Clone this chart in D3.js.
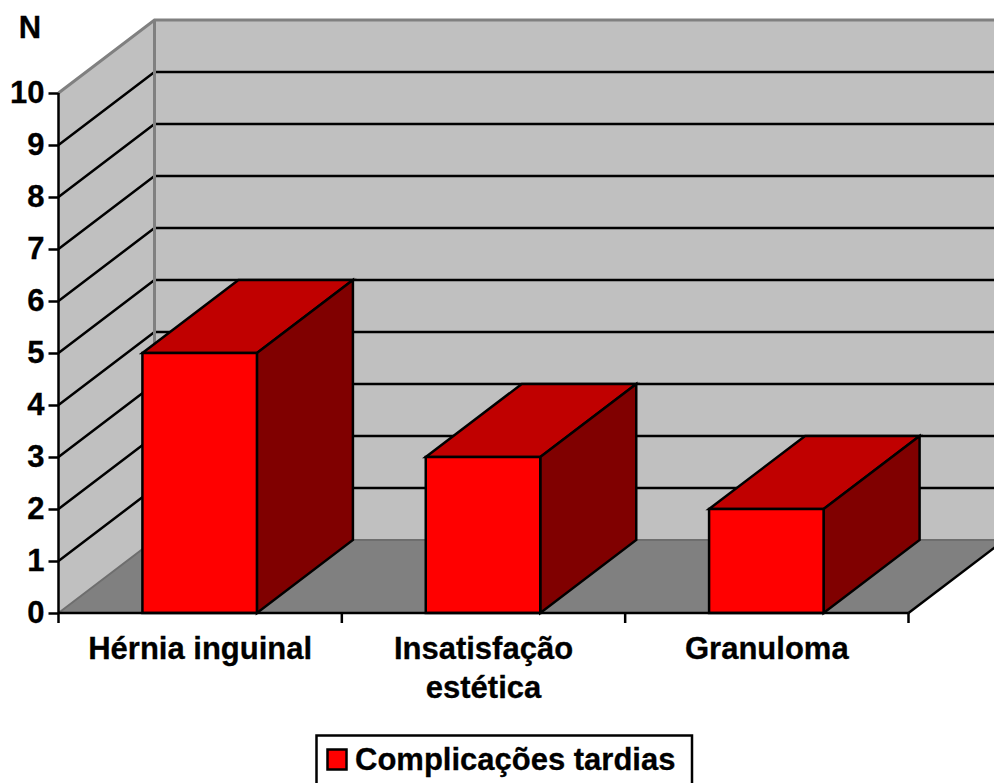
<!DOCTYPE html>
<html><head><meta charset="utf-8">
<script src="https://cdnjs.cloudflare.com/ajax/libs/d3/7.8.5/d3.min.js"></script>
<style>html,body{margin:0;padding:0;background:#fff;overflow:hidden}svg{display:block}text{font-family:"Liberation Sans",Arial,sans-serif;font-weight:700;fill:#000;stroke:#000;stroke-width:.3px}</style>
</head><body><div id="c"></div>
<script>
const categories = [["Hérnia inguinal"], ["Insatisfação", "estética"], ["Granuloma"]];
const values = [5, 3, 2];
const tickValues = [0,1,2,3,4,5,6,7,8,9,10];
const seriesName = "Complicações tardias";
const axisTitle = "N";

const W=994,H=783, depthX=96, depthY=73;
const svg=d3.select("#c").append("svg").attr("width",W).attr("height",H);
const x=d3.scaleBand().domain(d3.range(categories.length)).range([58.5,908.5]).paddingInner(0).paddingOuter(0);
const y=d3.scaleLinear().domain([0,10]).range([613,93]);
const line=d3.line();
const poly=(pts,fill,stroke,sw)=>svg.append("path").attr("d",line(pts)+"Z").attr("fill",fill).attr("stroke",stroke).attr("stroke-width",sw).attr("stroke-linejoin","miter");
const seg=(pts,stroke,sw)=>svg.append("path").attr("d",line(pts)).attr("fill","none").attr("stroke",stroke).attr("stroke-width",sw);
const x0=x.range()[0],x1=x.range()[1];
const yb=y(0),yt=y(10);
const lw=2.5;
// walls
poly([[x0,yb],[x0+depthX,yb-depthY],[x0+depthX,yt-depthY],[x0,yt]],"#c0c0c0","none",0);
poly([[x0+depthX,yb-depthY],[x1+depthX,yb-depthY],[x1+depthX,yt-depthY],[x0+depthX,yt-depthY]],"#c0c0c0","none",0);
// floor
poly([[x0,yb],[x1,yb],[x1+depthX,yb-depthY],[x0+depthX,yb-depthY]],"#808080","none",0);
// grid
tickValues.filter(t=>t>0&&t<10).forEach(t=>{
  seg([[x0,y(t)],[x0+depthX,y(t)-depthY],[x1+depthX,y(t)-depthY]],"#000",lw);
});
// wall edges
seg([[x0,yt],[x0+depthX,yt-depthY],[x1+depthX,yt-depthY]],"#808080",3);
seg([[x0+depthX,yt-depthY],[x0+depthX,yb-depthY]],"#808080",3);
seg([[x0,yb],[x0+depthX,yb-depthY],[x1+depthX,yb-depthY]],"#6e6e6e",2);
seg([[x1,yb],[x1+depthX,yb-depthY]],"#000",lw);
// bars
const barW=114.5;
values.forEach((v,i)=>{
  const bx=x(i)+x.bandwidth()/2-barW/2-0.5, tx=bx+barW, ty=y(v);
  poly([[bx,ty],[tx,ty],[tx+depthX,ty-depthY],[bx+depthX,ty-depthY]],"#c00000","#000",lw);
  poly([[tx,yb],[tx,ty],[tx+depthX,ty-depthY],[tx+depthX,yb-depthY]],"#800000","#000",lw);
  poly([[bx,yb],[bx,ty],[tx,ty],[tx,yb]],"#ff0000","#000",lw);
});
// axes
const ay=svg.append("g").attr("transform",`translate(${x0},0)`).call(d3.axisLeft(y).tickValues(tickValues).tickSize(10).tickPadding(4).tickFormat(d3.format("d")));
ay.selectAll("line").attr("stroke","#000").attr("stroke-width",lw);
ay.select(".domain").attr("d",`M0,${yt}V${yb}`).attr("stroke","#000").attr("stroke-width",lw).attr("fill","none");
ay.selectAll("text").attr("font-size",31).attr("font-family",null);
const ax=svg.append("g").attr("transform",`translate(0,${yb})`);
ax.append("path").attr("d",`M${x0},0H${x1}`).attr("stroke","#000").attr("stroke-width",lw).attr("fill","none");
d3.range(categories.length+1).forEach(i=>{
  const px=i<categories.length?x(i):x1;
  ax.append("line").attr("x1",px).attr("x2",px).attr("y1",0).attr("y2",10).attr("stroke","#000").attr("stroke-width",lw);
});
categories.forEach((c,i)=>{
  c.forEach((s,j)=>svg.append("text").attr("x",x(i)+x.bandwidth()/2).attr("y",659+j*39).attr("text-anchor","middle").attr("font-size",31).text(s));
});
svg.append("text").attr("x",30).attr("y",38).attr("text-anchor","middle").attr("font-size",31).text(axisTitle);
// legend
const lg=svg.append("g");
lg.append("rect").attr("x",316.5).attr("y",735.5).attr("width",375.5).attr("height",55).attr("fill","#fff").attr("stroke","#000").attr("stroke-width",lw);
lg.append("rect").attr("x",327.5).attr("y",749.5).attr("width",19).attr("height",20).attr("fill","#ff0000").attr("stroke","#000").attr("stroke-width",lw);
lg.append("text").attr("x",355).attr("y",770).attr("font-size",31).text(seriesName);
</script></body></html>
